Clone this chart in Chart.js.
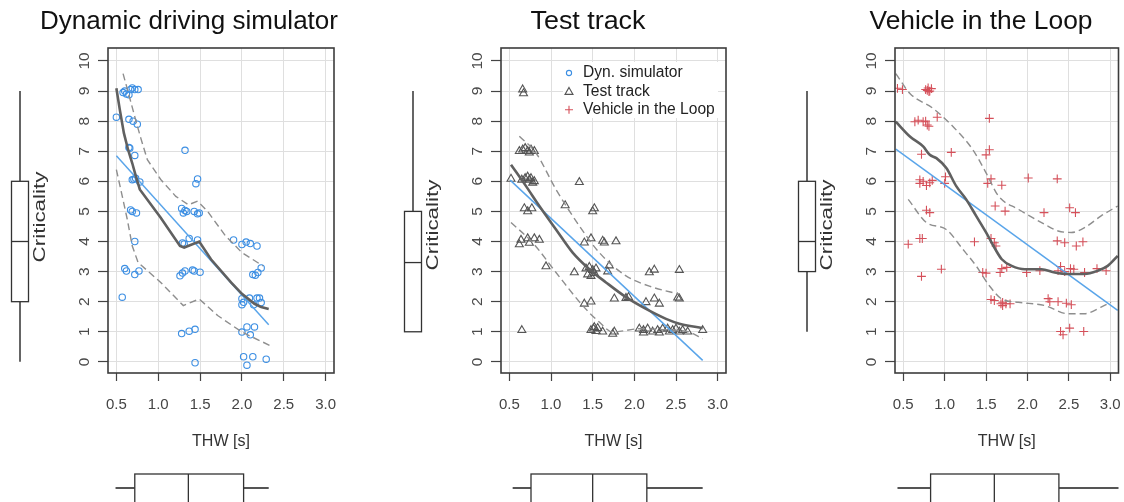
<!DOCTYPE html>
<html><head><meta charset="utf-8">
<script src="https://cdn.jsdelivr.net/npm/chart.js@4.4.1/dist/chart.umd.min.js"></script>
<style>
html,body{margin:0;padding:0;background:#fff;}
#wrap{position:relative;width:1124px;height:502px;overflow:hidden;background:#fff;}
canvas{position:absolute;top:0;}
</style></head><body>
<div id="wrap">
<canvas id="c1" style="left:0px" width="374" height="502"></canvas>
<canvas id="c2" style="left:374px" width="376" height="502"></canvas>
<canvas id="c3" style="left:750px" width="374" height="502"></canvas>
</div>
<script>
// ---------- axes ----------
const xTicks=[0.5,1.0,1.5,2.0,2.5,3.0];
const xTickLabels=['0.5','1.0','1.5','2.0','2.5','3.0'];
const yTicks=[0,1,2,3,4,5,6,7,8,9,10];
const yTickLabels=['0','1','2','3','4','5','6','7','8','9','10'];
const titles=['Dynamic driving simulator','Test track','Vehicle in the Loop'];
const legendLabels=['Dyn. simulator','Test track','Vehicle in the Loop'];

// ---------- Panel 1: dynamic driving simulator ----------
const simX=[0.5,0.57,0.58,0.6,0.62,0.65,0.67,0.69,0.72,0.76,0.65,0.70,0.75,0.65,0.66,0.72,0.69,0.71,0.73,0.78,0.67,0.69,0.74,0.72,0.6,0.62,0.72,0.77,
 1.32,1.47,1.45,1.28,1.30,1.32,1.34,1.43,1.47,1.49,1.29,1.31,1.37,1.47,1.26,1.29,1.32,1.41,1.43,1.5,1.28,1.37,1.44,1.44,
 1.9,2.0,2.05,2.1,2.18,2.23,2.13,2.16,2.19,2.0,2.02,2.0,2.09,2.18,2.21,2.23,2.14,2.0,2.06,2.1,2.15,2.02,2.06,2.13,2.29];
const simY=[8.13,2.15,8.95,9.0,8.9,8.88,9.05,9.1,9.05,9.05,8.06,8.0,7.9,7.12,7.1,6.86,6.05,6.07,6.1,5.98,5.05,5.0,4.95,4.0,3.1,3.02,2.9,3.02,
 7.03,6.08,5.92,5.1,4.95,5.03,5.0,5.0,4.92,4.95,3.95,3.92,4.1,4.05,2.86,2.95,3.02,3.05,3.02,2.98,0.94,1.02,1.08,-0.03,
 4.05,3.9,3.98,3.93,3.85,3.12,2.9,2.88,2.97,2.1,1.98,1.9,2.12,2.12,2.12,1.97,1.9,0.99,1.16,0.9,1.16,0.17,-0.11,0.17,0.09];
const simLoessX=[0.5,0.54,0.59,0.64,0.69,0.73,0.78,1.03,1.26,1.31,1.49,1.63,1.87,2.0,2.15,2.23,2.32];
const simLoessY=[9.09,8.4,7.6,7.05,6.6,6.2,5.73,4.79,3.85,3.8,4.0,3.41,2.64,2.26,1.93,1.82,1.76];
const simUpperX=[0.58,0.65,0.73,0.79,0.87,1.03,1.21,1.36,1.47,1.59,1.8,2.0,2.25];
const simUpperY=[9.58,8.87,8.04,7.45,6.72,6.06,5.5,5.22,5.34,5.0,4.2,3.63,3.19];
const simLowerX=[0.5,0.57,0.63,0.69,0.76,1.03,1.3,1.49,1.71,2.0,2.33];
const simLowerY=[6.39,5.51,4.74,3.85,3.3,2.64,1.87,2.09,1.54,0.99,0.55];
const simRegX=[0.5,2.32];
const simRegY=[6.85,1.23];
const simBoxY=[0,2,4,6,9];        // min, q1, median, q3, max of criticality
const simBoxX=[0.49,0.72,1.36,2.02,2.32];

// ---------- Panel 2: test track ----------
const ttX=[0.52,0.66,0.67,0.65,0.62,0.66,0.69,0.72,0.76,0.8,0.74,0.65,0.69,0.72,0.74,0.76,0.78,0.8,0.68,0.72,0.77,0.62,0.64,0.72,0.74,0.8,0.86,0.94,
 1.17,1.34,1.5,1.52,1.28,1.4,1.48,1.4,1.48,1.62,1.64,1.78,1.42,1.46,1.5,1.52,1.54,1.44,1.48,1.68,1.7,1.48,1.51,1.54,1.56,1.62,1.52,1.74,1.76,1.76,
 1.9,1.93,2.14,2.24,2.3,2.18,2.24,2.54,2.52,2.54,2.06,2.11,2.16,2.22,2.28,2.34,2.4,2.42,2.46,2.5,2.54,2.58,2.64,2.82,2.11,2.3];
const ttY=[6.08,9.05,8.92,1.05,7.0,7.05,7.1,7.0,7.05,7.0,6.95,6.05,6.1,6.15,6.05,6.1,5.95,6.0,5.1,5.0,5.1,3.9,4.05,4.1,3.95,4.1,4.05,3.17,
 5.2,5.97,5.0,5.1,2.97,1.93,2.0,3.96,4.1,4.02,3.96,4.0,3.1,3.15,3.05,2.95,3.1,2.9,2.85,3.0,3.2,1.05,1.1,1.02,1.12,1.0,1.15,0.93,1.0,2.1,
 2.12,2.15,1.98,2.1,1.93,2.97,3.06,3.05,2.13,2.1,1.1,1.05,1.1,1.0,1.05,1.1,1.1,1.0,1.05,1.1,1.0,1.05,1.0,1.05,0.97,0.97];
const ttLoessX=[0.52,0.7,0.86,1.06,1.26,1.46,1.66,1.9,2.14,2.38,2.54,2.82];
const ttLoessY=[6.55,5.84,5.18,4.4,3.63,3.08,2.64,2.15,1.76,1.43,1.27,1.12];
const ttUpperX=[0.62,0.82,1.06,1.34,1.58,1.9,2.22,2.54];
const ttUpperY=[7.5,6.94,5.73,4.52,3.63,2.86,2.48,2.25];
const ttLowerX=[0.52,0.78,1.06,1.38,1.58,1.74,2.06,2.46,2.66,2.82];
const ttLowerY=[4.63,3.96,2.97,1.87,1.32,0.99,1.1,1.05,0.99,0.77];
const ttRegX=[0.51,2.82];
const ttRegY=[6.04,0.05];
const ttBoxY=[1,1,3.3,5,9];
const ttBoxX=[0.54,0.76,1.5,2.15,2.82];

// ---------- Panel 3: vehicle in the loop ----------
const vilX=[0.43,0.49,0.77,0.8,0.82,0.84,0.81,0.79,0.64,0.68,0.74,0.77,0.79,0.81,0.91,0.72,1.08,0.7,0.74,0.78,0.82,0.85,0.7,1.01,1.0,0.78,0.82,0.7,0.73,0.56,0.72,0.96,1.36,
 1.54,1.5,1.54,1.52,1.56,1.69,1.61,1.73,1.56,1.6,1.62,1.46,1.5,1.67,1.69,1.75,1.56,1.6,1.68,1.7,1.74,1.79,1.7,
 1.99,2.15,2.01,2.36,2.2,2.25,2.27,2.37,2.47,2.53,2.36,2.45,2.59,2.67,2.37,2.4,2.52,2.56,2.45,2.51,2.58,2.4,2.43,2.51,2.68,2.69,2.84,2.95];
const vilY=[9.09,9.05,9.05,9.1,9.0,9.08,8.98,9.02,7.98,8.03,7.98,8.0,7.87,7.83,8.13,6.9,6.96,6.05,6.0,5.86,5.95,6.03,5.93,6.15,5.93,5.04,4.96,4.1,4.1,3.91,2.84,3.08,3.99,
 8.09,6.88,7.05,5.93,6.08,5.87,5.18,5.01,4.1,3.96,3.85,2.97,2.95,2.97,3.1,3.14,2.07,2.04,1.93,1.98,1.93,1.93,1.87,
 2.97,3.03,6.11,6.08,4.96,2.1,2.0,2.0,1.95,1.9,4.02,3.96,3.85,3.99,3.03,3.17,3.1,3.08,3.0,5.12,4.96,1.01,0.9,1.12,1.01,2.97,3.1,3.03];
const vilLoessX=[0.41,0.58,0.74,0.82,0.9,1.02,1.14,1.26,1.38,1.5,1.6,1.69,1.81,1.97,2.17,2.33,2.49,2.69,2.85,2.97,3.09];
const vilLoessY=[7.98,7.49,7.16,6.88,6.77,6.44,5.84,5.4,4.85,4.3,3.8,3.41,3.19,3.08,3.08,2.97,2.92,2.92,3.03,3.19,3.52];
const vilUpperX=[0.41,0.58,0.86,1.1,1.34,1.5,1.65,1.89,2.21,2.37,2.53,2.69,2.89,3.09];
const vilUpperY=[9.58,8.92,8.42,7.82,7.05,6.28,5.51,5.07,4.57,4.35,4.3,4.46,4.85,5.18];
const vilLowerX=[0.56,0.78,1.02,1.22,1.38,1.54,1.69,1.89,2.21,2.49,2.69,2.89,3.01];
const vilLowerY=[5.4,4.63,4.4,3.74,3.19,2.53,2.09,1.98,1.87,1.6,1.6,1.82,1.98];
const vilRegX=[0.41,3.09];
const vilRegY=[7.07,1.71];
const vilBoxY=[1,3,4,6,9];
const vilBoxX=[0.43,0.83,1.6,2.38,3.1];

// ---------- helpers ----------
const FONT='"Liberation Sans", Arial, Helvetica, sans-serif';
function zip(xs,ys){return xs.map((x,i)=>({x:x,y:ys[i]}));}
function txt(ctx,s,x,y,size,len,rot,color){
  ctx.save();
  ctx.font=size+'px '+FONT;
  ctx.fillStyle=color;ctx.textAlign='center';ctx.textBaseline='middle';
  ctx.translate(x,y);
  if(rot) ctx.rotate(-Math.PI/2);
  if(len){const w=ctx.measureText(s).width; ctx.scale(len/w,1);}
  ctx.fillText(s,0,0);
  ctx.restore();
}
const C_BLUE='#3d8fe3', C_REG='#5aa5ea', C_LO='#606060', C_DASH='#8e8e8e', C_TRI='#555555', C_RED='#d5505a';

function drawMarker(ctx,kind,x,y){
  ctx.save();ctx.lineWidth=1.1;
  if(kind==='circle'){ctx.strokeStyle=C_BLUE;ctx.beginPath();ctx.arc(x,y,2.6,0,Math.PI*2);ctx.stroke();}
  else if(kind==='triangle'){ctx.strokeStyle=C_TRI;ctx.beginPath();ctx.moveTo(x,y-4);ctx.lineTo(x+4,y+3);ctx.lineTo(x-4,y+3);ctx.closePath();ctx.stroke();}
  else {ctx.strokeStyle=C_RED;ctx.beginPath();ctx.moveTo(x-4,y);ctx.lineTo(x+4,y);ctx.moveTo(x,y-4);ctx.lineTo(x,y+4);ctx.stroke();}
  ctx.restore();
}

const decor={
  id:'decor',
  afterDraw(chart,args,o){
    const ctx=chart.ctx,a=chart.chartArea,xs=chart.scales.x,ys=chart.scales.y;
    // legend
    if(o.legend){
      const lr=a.right-8, lt=a.top+14, lw=155, lh=56;
      ctx.save();ctx.fillStyle='#fff';ctx.fillRect(lr-lw,lt,lw,lh);ctx.restore();
      const kinds=['circle','triangle','plus'];
      for(let i=0;i<3;i++){
        const yy=a.top+25+i*18.4;
        drawMarker(ctx,kinds[i],lr-lw+6,yy);
        ctx.save();ctx.font='15.6px '+FONT;ctx.fillStyle='#222';ctx.textAlign='left';ctx.textBaseline='middle';
        ctx.fillText(legendLabels[i],lr-lw+20,yy);ctx.restore();
      }
    }
    // frame
    ctx.save();ctx.strokeStyle='#3c3c3c';ctx.lineWidth=1.6;
    ctx.strokeRect(a.left,a.top,a.right-a.left,a.bottom-a.top);ctx.restore();
    // tick labels
    yTicks.forEach((v,i)=>txt(ctx,yTickLabels[i],a.left-23,ys.getPixelForValue(v),15.5,null,true,'#4a4a4a'));
    xTicks.forEach((v,i)=>txt(ctx,xTickLabels[i],xs.getPixelForValue(v),a.bottom+32,15,null,false,'#444'));
    // axis titles
    txt(ctx,'THW [s]',(a.left+a.right)/2,a.bottom+69,16,58,false,'#333');
    txt(ctx,'Criticality',a.left-67,o.critY,16,91,true,'#333');
    // main title
    txt(ctx,o.title,o.titleX,22,26,o.titleW,false,'#111');
    // left boxplot (criticality)
    const b=o.boxY, cx=a.left-88, w=17;
    const p=b.map(v=>ys.getPixelForValue(v));
    ctx.save();
    ctx.strokeStyle='#555';ctx.lineWidth=1.8;
    ctx.beginPath();ctx.moveTo(cx,p[0]);ctx.lineTo(cx,p[1]);ctx.moveTo(cx,p[3]);ctx.lineTo(cx,p[4]);ctx.stroke();
    ctx.fillStyle='#fff';ctx.fillRect(cx-w/2,p[3],w,p[1]-p[3]);
    ctx.strokeStyle='#333';ctx.lineWidth=1.3;
    ctx.strokeRect(cx-w/2,p[3],w,p[1]-p[3]);
    ctx.beginPath();ctx.moveTo(cx-w/2,p[2]);ctx.lineTo(cx+w/2,p[2]);ctx.stroke();
    ctx.restore();
    // bottom boxplot (THW)
    const bx=o.boxX, cy=a.bottom+115, t=a.bottom+101, bt=a.bottom+130;
    const q=bx.map(v=>xs.getPixelForValue(v));
    ctx.save();
    ctx.strokeStyle='#555';ctx.lineWidth=1.8;
    ctx.beginPath();ctx.moveTo(q[0],cy);ctx.lineTo(q[1],cy);ctx.moveTo(q[3],cy);ctx.lineTo(q[4],cy);ctx.stroke();
    ctx.fillStyle='#fff';ctx.fillRect(q[1],t,q[3]-q[1],bt-t);
    ctx.strokeStyle='#333';ctx.lineWidth=1.3;
    ctx.strokeRect(q[1],t,q[3]-q[1],bt-t);
    ctx.beginPath();ctx.moveTo(q[2],t);ctx.lineTo(q[2],bt);ctx.stroke();
    ctx.restore();
  }
};

function makePanel(id,c){
  const lineDs=(xs,ys,col,w,dash,order,smooth)=>({
    data:zip(xs,ys),showLine:true,pointRadius:0,borderColor:col,borderWidth:w,borderDash:dash||[],
    backgroundColor:'transparent',order:order,
    tension:smooth?0.4:0,cubicInterpolationMode:smooth?'monotone':'default'
  });
  new Chart(document.getElementById(id),{
    type:'scatter',
    data:{datasets:[
      lineDs(c.loX,c.loY,C_LO,2.6,null,1,c.smooth),
      lineDs(c.regX,c.regY,C_REG,1.5,null,2,false),
      lineDs(c.upX,c.upY,C_DASH,1.4,[7,4],3,c.smooth),
      lineDs(c.lwX,c.lwY,C_DASH,1.4,[7,4],3,c.smooth),
      {data:zip(c.px,c.py),pointStyle:c.style,pointRadius:c.r,pointBorderWidth:1.1,
       borderColor:c.col,backgroundColor:'rgba(0,0,0,0)',showLine:false,order:5}
    ]},
    options:{
      responsive:false,animation:false,devicePixelRatio:1,events:[],
      layout:{padding:c.pad},
      plugins:{legend:{display:false},tooltip:{enabled:false},title:{display:false},
        decor:{legend:c.legend,title:c.title,titleX:c.titleX,titleW:c.titleW,critY:c.critY,boxX:c.boxX,boxY:c.boxY}},
      scales:{
        x:{type:'linear',position:'bottom',min:0.4,max:3.1,
           afterBuildTicks:s=>{s.ticks=xTicks.map(v=>({value:v}));},
           afterFit:s=>{s.height=8;},
           ticks:{display:false},border:{display:false},
           grid:{color:'#dfdfdf',lineWidth:1,drawTicks:true,tickLength:8,tickColor:'#444',tickWidth:1.2}},
        y:{type:'linear',position:'left',min:-0.37,max:10.43,
           afterBuildTicks:s=>{s.ticks=yTicks.map(v=>({value:v}));},
           afterFit:s=>{s.width=10;},
           ticks:{display:false},border:{display:false},
           grid:{color:'#dfdfdf',lineWidth:1,drawTicks:true,tickLength:10,tickColor:'#444',tickWidth:1.2}}
      }
    },
    plugins:[decor]
  });
}

makePanel('c1',{px:simX,py:simY,style:'circle',r:3.2,col:C_BLUE,
  loX:simLoessX,loY:simLoessY,upX:simUpperX,upY:simUpperY,lwX:simLowerX,lwY:simLowerY,regX:simRegX,regY:simRegY,
  boxX:simBoxX,boxY:simBoxY,smooth:false,legend:false,
  pad:{left:98,right:40,top:48,bottom:121},title:titles[0],titleX:189,titleW:298,critY:217});
makePanel('c2',{px:ttX,py:ttY,style:'triangle',r:4.6,col:C_TRI,
  loX:ttLoessX,loY:ttLoessY,upX:ttUpperX,upY:ttUpperY,lwX:ttLowerX,lwY:ttLowerY,regX:ttRegX,regY:ttRegY,
  boxX:ttBoxX,boxY:ttBoxY,smooth:true,legend:true,
  pad:{left:117,right:24,top:48,bottom:121},title:titles[1],titleX:588-374,titleW:115,critY:225});
makePanel('c3',{px:vilX,py:vilY,style:'cross',r:4.4,col:C_RED,
  loX:vilLoessX,loY:vilLoessY,upX:vilUpperX,upY:vilUpperY,lwX:vilLowerX,lwY:vilLowerY,regX:vilRegX,regY:vilRegY,
  boxX:vilBoxX,boxY:vilBoxY,smooth:true,legend:false,
  pad:{left:135,right:2,top:48,bottom:121},title:titles[2],titleX:981-750,titleW:223,critY:225});
</script>
</body></html>
